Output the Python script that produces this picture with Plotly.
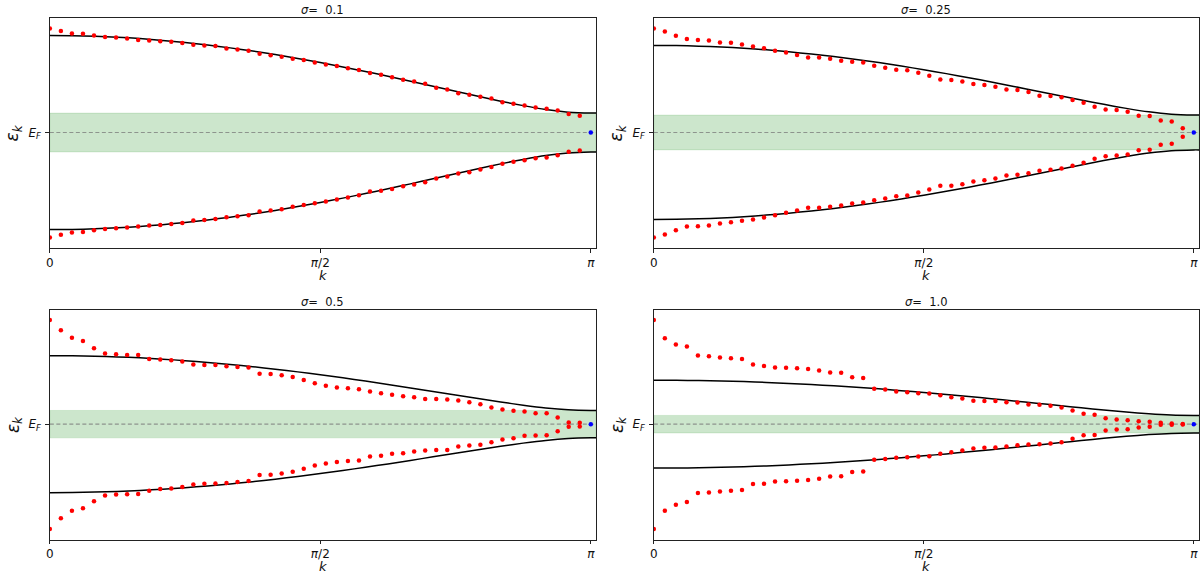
import numpy as np
import plotly.graph_objects as go

# ---------------------------------------------------------------
# Data
# ---------------------------------------------------------------
sigma_labels = ["0.1", "0.25", "0.5", "1.0"]
gap = 0.2            # half width of the shaded window around E_F
k_max_axis = 3.172   # right end of the k axis

# k grid of the numerically obtained eigenvalues (n = 0 .. 48, step pi/49)
k_dots = [n * np.pi / 49 for n in range(49)]

# clean dispersion sampled every pi/24, plus the right axis end
k_curve = [j * np.pi / 24 for j in range(25)] + [k_max_axis]
band_upper = [1.000, 0.998, 0.992, 0.982, 0.968, 0.949, 0.927, 0.901, 0.872,
              0.839, 0.803, 0.763, 0.721, 0.676, 0.629, 0.580, 0.529, 0.477,
              0.425, 0.373, 0.323, 0.277, 0.237, 0.210, 0.200, 0.200]
band_lower = [-1.000, -0.998, -0.992, -0.982, -0.968, -0.949, -0.927, -0.901, -0.872,
              -0.839, -0.803, -0.763, -0.721, -0.676, -0.629, -0.580, -0.529, -0.477,
              -0.425, -0.373, -0.323, -0.277, -0.237, -0.210, -0.200, -0.200]

# eigenvalues, upper and lower branch, for each disorder strength sigma
eig_up_s01 = [1.072, 1.045, 1.021, 1.018, 1.000, 0.983, 0.980, 0.969, 0.952, 0.948,
              0.940, 0.935, 0.921, 0.904, 0.897, 0.890, 0.866, 0.856, 0.842, 0.811,
              0.797, 0.780, 0.759, 0.746, 0.722, 0.701, 0.684, 0.663, 0.643, 0.612,
              0.595, 0.570, 0.543, 0.526, 0.502, 0.460, 0.443, 0.405, 0.388, 0.368,
              0.351, 0.313, 0.296, 0.278, 0.258, 0.244, 0.227, 0.192, 0.172]
eig_dn_s01 = [-1.082, -1.052, -1.031, -1.024, -1.007, -0.993, -0.986, -0.979, -0.969, -0.959,
              -0.952, -0.942, -0.931, -0.907, -0.900, -0.890, -0.873, -0.863, -0.852, -0.814,
              -0.804, -0.790, -0.766, -0.746, -0.729, -0.711, -0.691, -0.670, -0.646, -0.608,
              -0.601, -0.581, -0.553, -0.536, -0.512, -0.474, -0.454, -0.423, -0.409, -0.381,
              -0.354, -0.323, -0.302, -0.285, -0.265, -0.258, -0.234, -0.199, -0.186]

eig_up_s025 = [1.195, 1.161, 1.111, 1.073, 1.061, 1.057, 1.034, 1.031, 1.011, 0.989,
               0.969, 0.939, 0.920, 0.889, 0.862, 0.860, 0.847, 0.824, 0.812, 0.805,
               0.766, 0.743, 0.720, 0.716, 0.686, 0.651, 0.609, 0.602, 0.586, 0.556,
               0.544, 0.525, 0.494, 0.487, 0.464, 0.421, 0.418, 0.406, 0.372, 0.341,
               0.295, 0.264, 0.257, 0.238, 0.192, 0.190, 0.138, 0.126, 0.050]
eig_dn_s025 = [-1.207, -1.172, -1.123, -1.080, -1.076, -1.069, -1.046, -1.031, -1.015, -1.000,
               -0.977, -0.950, -0.923, -0.897, -0.866, -0.864, -0.854, -0.839, -0.816, -0.805,
               -0.778, -0.759, -0.732, -0.724, -0.690, -0.655, -0.613, -0.611, -0.594, -0.563,
               -0.548, -0.529, -0.494, -0.487, -0.467, -0.441, -0.429, -0.414, -0.383, -0.349,
               -0.303, -0.272, -0.264, -0.253, -0.203, -0.199, -0.142, -0.130, -0.050]

eig_up_s05 = [1.521, 1.370, 1.263, 1.215, 1.108, 1.030, 1.020, 1.011, 1.008, 0.952,
              0.943, 0.933, 0.913, 0.870, 0.865, 0.862, 0.845, 0.836, 0.826, 0.734,
              0.731, 0.714, 0.690, 0.646, 0.598, 0.559, 0.534, 0.525, 0.510, 0.476,
              0.452, 0.428, 0.408, 0.394, 0.369, 0.366, 0.360, 0.345, 0.321, 0.292,
              0.243, 0.214, 0.194, 0.185, 0.160, 0.158, 0.097, 0.024, 0.022]
eig_dn_s05 = [-1.531, -1.375, -1.263, -1.229, -1.127, -1.040, -1.025, -1.023, -1.021, -0.972,
              -0.948, -0.938, -0.918, -0.879, -0.870, -0.868, -0.860, -0.845, -0.831, -0.743,
              -0.739, -0.719, -0.695, -0.651, -0.603, -0.573, -0.554, -0.539, -0.530, -0.471,
              -0.462, -0.432, -0.423, -0.398, -0.384, -0.379, -0.377, -0.326, -0.311, -0.301,
              -0.263, -0.224, -0.204, -0.170, -0.165, -0.163, -0.102, -0.039, -0.034]

eig_up_s10 = [2.371, 1.955, 1.811, 1.765, 1.561, 1.545, 1.515, 1.500, 1.485, 1.356,
              1.326, 1.288, 1.285, 1.273, 1.258, 1.220, 1.174, 1.171, 1.068, 1.053,
              0.803, 0.788, 0.742, 0.727, 0.705, 0.697, 0.659, 0.614, 0.583, 0.530,
              0.528, 0.526, 0.500, 0.492, 0.447, 0.439, 0.417, 0.379, 0.311, 0.235,
              0.212, 0.136, 0.106, 0.091, 0.068, 0.053, 0.030, 0.015, 0.005]
eig_dn_s10 = [-2.386, -1.970, -1.833, -1.773, -1.568, -1.553, -1.530, -1.515, -1.500, -1.364,
              -1.356, -1.303, -1.300, -1.288, -1.273, -1.242, -1.189, -1.186, -1.091, -1.076,
              -0.811, -0.795, -0.765, -0.750, -0.735, -0.727, -0.674, -0.636, -0.598, -0.553,
              -0.538, -0.530, -0.508, -0.477, -0.462, -0.455, -0.439, -0.409, -0.333, -0.250,
              -0.245, -0.144, -0.121, -0.114, -0.076, -0.061, -0.015, -0.013, -0.008]

# zero mode at k = pi
k_zero_mode = [np.pi]
e_zero_mode = [0.0]

eig_up = [eig_up_s01, eig_up_s025, eig_up_s05, eig_up_s10]
eig_dn = [eig_dn_s01, eig_dn_s025, eig_dn_s05, eig_dn_s10]

# ---------------------------------------------------------------
# Layout geometry (pixels of a 1200 x 577 canvas)
# ---------------------------------------------------------------
W, H = 1200, 577
FONT = "DejaVu Sans"
col_px = [(46, 594), (652, 1199)]
row_px = [(18, 248), (309.5, 539.5)]

fig = go.Figure()
layout_axes = {}
annotations = []
shapes = []

for i in range(4):
    r, c = divmod(i, 2)
    ax = "" if i == 0 else str(i + 1)
    xref, yref = "x" + ax, "y" + ax
    x0p, x1p = col_px[c]
    y0p, y1p = row_px[r]

    up, dn = eig_up[i], eig_dn[i]
    lo, hi = min(dn), max(up)
    pad = 0.05 * (hi - lo)
    yrange = [lo - pad, hi + pad]

    # shaded window around E_F and the dashed Fermi level
    shapes.append(dict(type="rect", xref=xref + " domain", yref=yref,
                       x0=0, x1=1, y0=-gap, y1=gap, layer="below",
                       fillcolor="rgba(0,128,0,0.2)",
                       line=dict(color="rgba(0,128,0,0.12)", width=1)))
    shapes.append(dict(type="line", xref=xref + " domain", yref=yref,
                       x0=0, x1=1, y0=0, y1=0, layer="below",
                       line=dict(color="rgba(120,120,120,0.75)", width=1.2,
                                 dash="4px,2.5px")))

    # clean bands
    for band in (band_upper, band_lower):
        fig.add_trace(go.Scatter(x=k_curve, y=band, mode="lines",
                                 line=dict(color="black", width=1.5, shape="spline",
                                           smoothing=0.6),
                                 xaxis=xref, yaxis=yref, showlegend=False,
                                 hoverinfo="skip"))
    # eigenvalues
    for vals in (up, dn):
        fig.add_trace(go.Scatter(x=k_dots, y=vals, mode="markers",
                                 marker=dict(color="red", size=4.5, line=dict(width=0)),
                                 xaxis=xref, yaxis=yref, showlegend=False))
    fig.add_trace(go.Scatter(x=k_zero_mode, y=e_zero_mode, mode="markers",
                             marker=dict(color="blue", size=4.5, line=dict(width=0)),
                             xaxis=xref, yaxis=yref, showlegend=False))

    common = dict(showline=True, mirror=True, linecolor="#222", linewidth=1,
                  showgrid=False, zeroline=False, ticks="outside", ticklen=3.5,
                  tickwidth=1, tickcolor="#222",
                  tickfont=dict(family=FONT, size=12, color="#111"))
    layout_axes["xaxis" + ax] = dict(
        domain=[x0p / W, x1p / W], anchor=yref, range=[0, k_max_axis],
        tickvals=[0, np.pi / 2, np.pi], ticktext=["0", "<i>π</i>/2", "<i>π</i>"],
        **common)
    layout_axes["yaxis" + ax] = dict(
        domain=[1 - y1p / H, 1 - y0p / H], anchor=xref, range=yrange,
        tickvals=[0], ticktext=["<i>E</i><sub><i>F</i></sub>"],
        ticklabelstandoff=2,
        **common)

    # panel title
    annotations.append(dict(text="<i>σ</i>=&nbsp;&nbsp;" + sigma_labels[i],
                            xref="paper", yref="paper",
                            x=(x0p + x1p) / 2 / W, y=1 - (y0p - 7.5) / H,
                            xanchor="center", yanchor="middle", showarrow=False,
                            font=dict(family=FONT, size=11.5, color="#111")))
    # x label
    annotations.append(dict(text="<i>k</i>", xref="paper", yref="paper",
                            x=(x0p + x1p) / 2 / W, y=1 - (y1p + 27) / H,
                            xanchor="center", yanchor="middle", showarrow=False,
                            font=dict(family=FONT, size=13, color="#111")))
    # y label, centred on the Fermi level
    ef_px = y0p + (yrange[1] - 0) / (yrange[1] - yrange[0]) * (y1p - y0p)
    annotations.append(dict(text="<i>ε</i><sub><i>k</i></sub>", xref="paper", yref="paper",
                            x=(x0p - 36) / W, y=1 - ef_px / H, textangle=-90,
                            xanchor="center", yanchor="middle", showarrow=False,
                            font=dict(family=FONT, size=17, color="#111")))

fig.update_layout(width=W, height=H, margin=dict(l=0, r=0, t=0, b=0),
                  paper_bgcolor="white", plot_bgcolor="white",
                  annotations=annotations, shapes=shapes,
                  font=dict(family=FONT), **layout_axes)

fig.write_html("out.html")
